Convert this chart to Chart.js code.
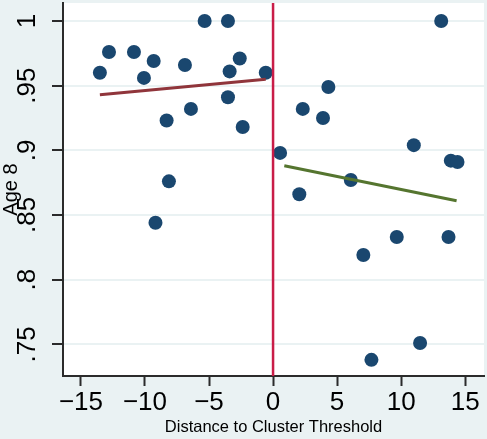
<!DOCTYPE html>
<html>
<head>
<meta charset="utf-8">
<script src="https://cdn.jsdelivr.net/npm/chart.js@4/dist/chart.umd.min.js"></script>
<style>
  html, body { margin: 0; padding: 0; background: #eaf2f3; }
  canvas { display: block; }
</style>
</head>
<body>
<canvas id="chart" width="487" height="439"></canvas>
<script>
// Clusters below the threshold (distance < 0)
const belowDistance = [-13.52, -12.81, -10.86, -10.08, -9.32, -9.18, -8.31, -8.13, -6.88, -6.41, -5.34, -3.52, -3.52, -3.39, -2.60, -2.37, -0.57];
const belowAge8     = [0.960, 0.976, 0.976, 0.956, 0.969, 0.844, 0.923, 0.876, 0.966, 0.932, 1.000, 1.000, 0.941, 0.961, 0.971, 0.918, 0.960];

// Clusters above the threshold (distance > 0)
const aboveDistance = [0.55, 2.05, 2.32, 3.90, 4.32, 6.07, 7.05, 7.68, 9.66, 10.99, 11.48, 13.13, 13.70, 13.88, 14.40];
const aboveAge8     = [0.898, 0.866, 0.932, 0.925, 0.949, 0.877, 0.819, 0.738, 0.833, 0.904, 0.751, 1.000, 0.833, 0.892, 0.891];

// Linear fits on each side of the threshold (end points)
const belowFitX = [-13.52, -0.57];
const belowFitY = [0.943, 0.955];
const aboveFitX = [0.88, 14.33];
const aboveFitY = [0.888, 0.861];

// Threshold position
const thresholdX = [0, 0];

// Axes
const xTicks = [-15, -10, -5, 0, 5, 10, 15];
const xTickLabels = ['\u221215', '\u221210', '\u22125', '0', '5', '10', '15'];
const yTicks = [0.75, 0.8, 0.85, 0.9, 0.95, 1];
const yTickLabels = ['.75', '.8', '.85', '.9', '.95', '1'];
const xRange = [-16.4, 16.47];
const yRange = [0.7255, 1.0139];

const FONT = "'Liberation Sans', Arial, Helvetica, sans-serif";
const BG = '#eaf2f3';
const AXIS = '#2b2b2b';

const toPoints = (xs, ys) => xs.map((x, i) => ({ x, y: ys[i] }));

const plotBackground = {
  id: 'plotBackground',
  beforeDraw(chart) {
    const { ctx, chartArea: a, width, height } = chart;
    ctx.save();
    ctx.fillStyle = BG;
    ctx.fillRect(0, 0, width, height);
    ctx.fillStyle = '#ffffff';
    ctx.fillRect(a.left, a.top, a.right - a.left, a.bottom - a.top);
    ctx.restore();
  }
};

new Chart(document.getElementById('chart'), {
  type: 'scatter',
  data: {
    datasets: [
      {
        label: 'threshold',
        data: toPoints(thresholdX, yRange),
        showLine: true,
        borderColor: '#c91d48',
        borderWidth: 2.5,
        pointRadius: 0,
        order: 1
      },
      {
        label: 'fit below',
        data: toPoints(belowFitX, belowFitY),
        showLine: true,
        borderColor: '#90353b',
        borderWidth: 3,
        pointRadius: 0,
        order: 2
      },
      {
        label: 'fit above',
        data: toPoints(aboveFitX, aboveFitY),
        showLine: true,
        borderColor: '#55752f',
        borderWidth: 3,
        pointRadius: 0,
        order: 2
      },
      {
        label: 'below',
        data: toPoints(belowDistance, belowAge8),
        backgroundColor: '#1a476f',
        borderWidth: 0,
        pointRadius: 7,
        order: 3
      },
      {
        label: 'above',
        data: toPoints(aboveDistance, aboveAge8),
        backgroundColor: '#1a476f',
        borderWidth: 0,
        pointRadius: 7,
        order: 3
      }
    ]
  },
  options: {
    responsive: false,
    animation: false,
    devicePixelRatio: 1,
    layout: {
      autoPadding: false,
      padding: { top: 3, right: 3, left: 0, bottom: 0 }
    },
    plugins: {
      legend: { display: false },
      tooltip: { enabled: false }
    },
    scales: {
      x: {
        type: 'linear',
        min: xRange[0],
        max: xRange[1],
        afterBuildTicks: s => { s.ticks = xTicks.map(v => ({ value: v })); },
        afterFit: s => {
          s.height = 63;
          s.paddingLeft = 0;
          s.paddingRight = 0;
        },
        ticks: {
          callback: (v, i) => xTickLabels[i],
          autoSkip: false,
          minRotation: 0,
          maxRotation: 0,
          padding: 1,
          color: '#000',
          font: { family: FONT, size: 26 }
        },
        grid: {
          drawOnChartArea: false,
          tickColor: AXIS,
          tickLength: 10,
          tickWidth: 2
        },
        border: { color: AXIS, width: 2 },
        title: {
          display: true,
          text: 'Distance to Cluster Threshold',
          color: '#000',
          font: { family: FONT, size: 16.5, lineHeight: 1 },
          padding: { top: 0, bottom: 3 }
        }
      },
      y: {
        type: 'linear',
        min: yRange[0],
        max: yRange[1],
        afterBuildTicks: s => { s.ticks = yTicks.map(v => ({ value: v })); },
        afterFit: s => {
          s.width = 63;
          s.paddingTop = 0;
          s.paddingBottom = 0;
        },
        ticks: {
          callback: (v, i) => yTickLabels[i],
          autoSkip: false,
          minRotation: 90,
          maxRotation: 90,
          crossAlign: 'center',
          padding: 6,
          color: '#000',
          font: { family: FONT, size: 26 }
        },
        grid: {
          color: BG,
          lineWidth: 2,
          tickColor: AXIS,
          tickLength: 11,
          tickWidth: 2
        },
        border: { color: AXIS, width: 2 },
        title: {
          display: true,
          text: 'Age 8',
          color: '#000',
          font: { family: FONT, size: 20, lineHeight: 1 },
          padding: { top: 1, bottom: 0 }
        }
      }
    }
  },
  plugins: [plotBackground]
});
</script>
</body>
</html>
